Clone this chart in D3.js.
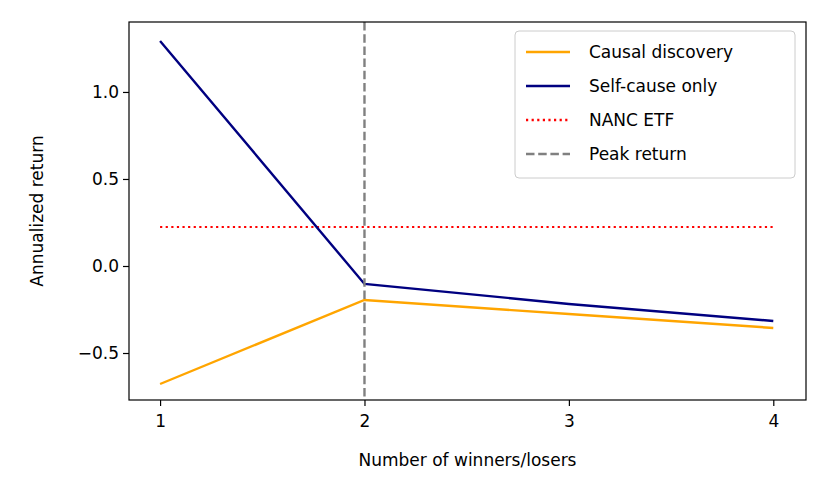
<!DOCTYPE html>
<html><head><meta charset="utf-8">
<script src="https://cdn.jsdelivr.net/npm/d3@7"></script>
<style>body{margin:0;background:#fff}text{font-family:"DejaVu Sans",sans-serif}</style>
</head><body><svg id="c" width="830" height="498"></svg>
<script>
const xValues=[1,2,3,4];
const causal=[-0.678,-0.195,-0.276,-0.356];
const selfCause=[1.293,-0.103,-0.218,-0.316];
const nanc=0.224;
const peak=2;
const yTicks=[-0.5,0.0,0.5,1.0];
const yTickLabels=["\u22120.5","0.0","0.5","1.0"];

const svg=d3.select("#c");
const L=129,R=806,T=22,B=400;
const x=d3.scaleLinear().domain([0.848,4.16]).range([L,R]);
const y=d3.scaleLinear().domain([-0.770,1.402]).range([B,T]);
const g=svg.append("g");
const xa=g.append("g").attr("transform",`translate(0,${B})`).call(d3.axisBottom(x).tickValues(xValues).tickFormat(d3.format("d")).tickSizeOuter(0).tickSize(6));
const ya=g.append("g").attr("transform",`translate(${L},0)`).call(d3.axisLeft(y).tickValues(yTicks).tickFormat((d,i)=>yTickLabels[i]).tickSizeOuter(0).tickSize(6));
[xa,ya].forEach(a=>{a.select(".domain").remove();a.selectAll("text").attr("font-size",17).attr("fill","#000");a.selectAll("line").attr("stroke","#000").attr("stroke-width",1.2);});
xa.selectAll("text").attr("dy","1.05em");
ya.selectAll("text").attr("x",-10);
const line=d3.line().x((d,i)=>x(xValues[i])).y(d=>y(d));
g.append("line").attr("x1",x(1)).attr("x2",x(4)).attr("y1",y(nanc)).attr("y2",y(nanc)).attr("stroke","red").attr("stroke-width",2.2).attr("stroke-dasharray","2.2,3.4");
g.append("path").attr("d",line(causal)).attr("fill","none").attr("stroke","orange").attr("stroke-width",2.4);
g.append("path").attr("d",line(selfCause)).attr("fill","none").attr("stroke","navy").attr("stroke-width",2.4);
g.append("line").attr("x1",x(peak)).attr("x2",x(peak)).attr("y1",T).attr("y2",B).attr("stroke","gray").attr("stroke-width",2.4).attr("stroke-dasharray","8.5,3.7");
g.append("rect").attr("x",L).attr("y",T).attr("width",R-L).attr("height",B-T).attr("fill","none").attr("stroke","#000").attr("stroke-width",1.2);
svg.append("text").attr("x",(L+R)/2).attr("y",466).attr("text-anchor","middle").attr("font-size",17).text("Number of winners/losers");
svg.append("text").attr("transform",`translate(43,${(T+B)/2}) rotate(-90)`).attr("text-anchor","middle").attr("font-size",17).text("Annualized return");
// legend
const lg=svg.append("g");
lg.append("rect").attr("x",515).attr("y",31).attr("width",280).attr("height",147).attr("rx",4).attr("fill","#fff").attr("stroke","#ccc");
const items=[["Causal discovery","orange",null],["Self-cause only","navy",null],["NANC ETF","red","2.2,3.4"],["Peak return","gray","8.5,3.7"]];
items.forEach((it,i)=>{const yy=52+i*34;
lg.append("line").attr("x1",526).attr("x2",570).attr("y1",yy).attr("y2",yy).attr("stroke",it[1]).attr("stroke-width",2.4).attr("stroke-dasharray",it[2]);
lg.append("text").attr("x",589).attr("y",yy+6).attr("font-size",17).text(it[0]);});
</script></body></html>
